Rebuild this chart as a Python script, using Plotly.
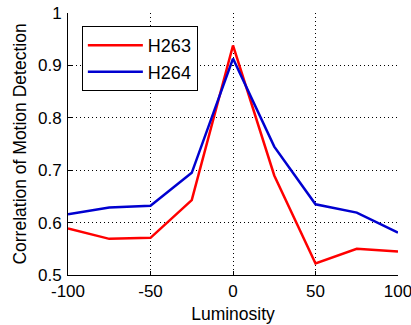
import plotly.graph_objects as go

luminosity = [-100, -75, -50, -25, 0, 25, 50, 75, 100]
h263 = [0.589, 0.569, 0.571, 0.643, 0.938, 0.690, 0.522, 0.550, 0.545]
h264 = [0.616, 0.629, 0.632, 0.695, 0.913, 0.745, 0.635, 0.619, 0.581]
x_ticks = [-100, -50, 0, 50, 100]
x_labels = ["-100", "-50", "0", "50", "100"]
y_ticks = [0.5, 0.6, 0.7, 0.8, 0.9, 1.0]
y_labels = ["0.5", "0.6", "0.7", "0.8", "0.9", "1"]

FONT = "Liberation Sans, Arial, sans-serif"

fig = go.Figure()
fig.add_trace(go.Scatter(x=luminosity, y=h263, mode="lines", name="H263",
                         line=dict(color="#ff0000", width=2.5)))
fig.add_trace(go.Scatter(x=luminosity, y=h264, mode="lines", name="H264",
                         line=dict(color="#0000d0", width=2.5)))

axis_common = dict(
    showgrid=True, gridcolor="#000000", gridwidth=1, griddash="1px,3px",
    zeroline=False, showline=True, linecolor="#000000", linewidth=1,
    ticks="inside", ticklen=4, tickcolor="#000000",
    tickfont=dict(family=FONT, size=17, color="#000000"),
    mirror=False, automargin=False, ticklabeloverflow="allow",
)

fig.update_layout(
    width=411, height=325,
    margin=dict(l=68, r=13, t=13, b=50),
    paper_bgcolor="white", plot_bgcolor="white",
    font=dict(family=FONT, size=17, color="#000000"),
    xaxis=dict(range=[-100, 100], tickvals=x_ticks, ticktext=x_labels,
               title=dict(text="Luminosity", standoff=7, font=dict(size=17.5)),
               ticklabelstandoff=1,
               **axis_common),
    yaxis=dict(range=[0.5, 1.0], tickvals=y_ticks, ticktext=y_labels,
               title=dict(text="Correlation of Motion Detection", standoff=6, font=dict(size=17.5)),
               ticklabelstandoff=2,
               **axis_common),
    legend=dict(x=0.042, y=0.95, xanchor="left", yanchor="top",
                bgcolor="white", bordercolor="#000000", borderwidth=1,
                font=dict(size=18), tracegroupgap=4, itemwidth=55),
    showlegend=True,
)

fig.write_html("out.html")
